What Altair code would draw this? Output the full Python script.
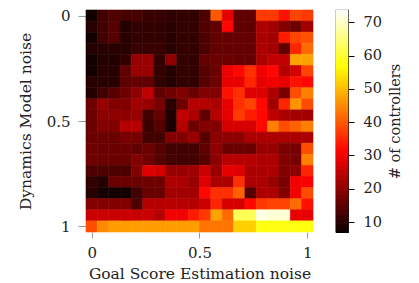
import altair as alt
import pandas as pd

FONT = "DejaVu Serif"

# noise levels (20 levels from 0 to 1)
goal_noise = [0.0, 0.0526, 0.1053, 0.1579, 0.2105, 0.2632, 0.3158, 0.3684, 0.4211, 0.4737,
              0.5263, 0.5789, 0.6316, 0.6842, 0.7368, 0.7895, 0.8421, 0.8947, 0.9474, 1.0]
dyn_noise = list(goal_noise)

# number of controllers, one list per Dynamics-Model-noise row (top = 0)
r00 = [7.5, 12.5, 14, 13, 13, 11.5, 11.5, 10.5, 11, 11, 13.5, 40, 29, 15.5, 15.5, 37, 37, 33, 38, 37]
r01 = [9.8, 12.5, 14.5, 9.5, 11, 11, 11, 10, 11, 11, 14, 15.5, 32, 15.5, 15.5, 23, 22, 19, 17, 22]
r02 = [7.7, 12.5, 14.5, 10, 11, 11, 11, 10, 11, 11, 13.5, 16, 16, 16, 16, 23, 22, 34, 38, 39.5]
r03 = [9.5, 10, 10, 10, 11.5, 11.5, 11.5, 10, 11, 11, 13.5, 16, 16, 16, 16, 23, 22, 15.5, 35, 42]
r04 = [7.7, 9.5, 9.5, 11, 21, 21, 11, 20, 11, 11, 16, 16.5, 16.5, 16, 16, 23, 25, 25, 47.5, 47.5]
r05 = [7.7, 10, 10, 15.5, 21, 21, 11, 9.5, 11, 11, 14.5, 16.5, 29.5, 32, 36, 30, 32, 24, 27, 38]
r06 = [10, 10, 10, 15.5, 16, 15.5, 11, 9.5, 11, 11, 14.5, 17, 29, 29, 35, 29, 30, 29, 33, 32]
r07 = [9.5, 12.5, 14.5, 17, 20, 25, 15.5, 17, 19, 16.5, 19, 19, 33, 36, 28, 28, 23, 18, 39, 44]
r08 = [17, 21, 19, 19, 22, 21, 18, 10, 17, 24, 24, 23, 29, 36, 38, 32, 22, 35, 46, 39]
r09 = [16.5, 20, 20, 20, 21, 12.5, 16, 9, 25, 23, 15.5, 24, 29, 37, 34, 32, 25, 23, 22, 22]
r10 = [16.5, 19, 19, 24, 24, 12, 14.5, 8.5, 24, 17, 19, 19, 27, 27, 27, 32, 44, 39, 41, 44]
r11 = [16.5, 16.5, 16.5, 18, 18, 12.5, 12.5, 19, 19, 21, 14.5, 20, 20, 20, 23, 23, 23, 23, 23, 23]
r12 = [17, 16.5, 16.5, 16.5, 15.5, 17, 14.5, 12.5, 12.5, 12.5, 15.5, 20, 16.5, 16.5, 16.5, 21, 21, 18, 18, 39]
r13 = [17, 16.5, 16.5, 16.5, 19, 17, 14.5, 12.5, 12.5, 12.5, 14.5, 20, 24, 24, 24, 23, 23, 19, 18, 44]
r14 = [13.5, 13.5, 13.5, 13.5, 19, 28, 27, 21, 21, 22, 26, 21, 29, 28, 23, 23, 23, 19, 20, 35]
r15 = [11, 9.5, 16.5, 16.5, 16.5, 17, 17, 23, 23, 21, 28, 23, 23, 36, 23, 23, 21, 18, 30, 31]
r16 = [10, 8, 8, 8, 12.5, 16.5, 16.5, 22, 22, 22, 32, 36, 36, 41, 14.5, 23, 23, 19, 30, 39]
r17 = [19, 19, 19, 19, 13.5, 24, 24, 24, 24, 24, 26, 35, 27, 27, 32, 37, 38, 38, 42, 33]
r18 = [26, 26, 26, 26, 26, 26, 24, 30, 30, 34, 37, 47.5, 42, 62.5, 62.5, 72, 71, 71, 29, 29]
r19 = [39, 45, 47, 47, 47, 47, 47, 47, 47, 47, 43, 43, 43, 52, 52, 58, 58, 58, 58, 58]
rows = [r00, r01, r02, r03, r04, r05, r06, r07, r08, r09,
        r10, r11, r12, r13, r14, r15, r16, r17, r18, r19]

# colour-bar range and ticks
cb_min, cb_max = 7.0, 73.7
cb_ticks = [10, 20, 30, 40, 50, 60, 70]

half = 0.5 / 19
recs = []
for i, dn in enumerate(dyn_noise):
    for j, gn in enumerate(goal_noise):
        recs.append({"x0": gn - half, "x1": gn + half,
                     "y0": dn - half, "y1": dn + half,
                     "count": rows[i][j]})
df = pd.DataFrame(recs)

# colour-bar slices
cb_recs = []
v = cb_min
while v < cb_max:
    cb_recs.append({"lo": v, "hi": min(v + 0.6, cb_max), "c": v + 0.25})
    v += 0.5
cb = pd.DataFrame(cb_recs)

# matplotlib "hot"-like scale
hot = alt.Scale(domain=[cb_min, 31.3, 56.8, cb_max],
                range=["#0b0000", "#ff0000", "#ffff00", "#ffffff"],
                interpolate="rgb")

W, H = 227, 222
TXT = "#222222"

heat = alt.Chart(df).mark_rect(strokeWidth=0.6).encode(
    x=alt.X("x0:Q",
            scale=alt.Scale(domain=[-half, 1 + half], nice=False, zero=False),
            axis=alt.Axis(values=[0, 0.5, 1], format="~g",
                          title="Goal Score Estimation noise",
                          tickSize=6, labelPadding=7, titlePadding=6,
                          tickColor="#999999", domain=False, grid=False)),
    x2="x1:Q",
    y=alt.Y("y0:Q",
            scale=alt.Scale(domain=[-half, 1 + half], reverse=True, nice=False, zero=False),
            axis=alt.Axis(values=[0, 0.5, 1], format="~g",
                          title="Dynamics Model noise",
                          tickSize=8, labelPadding=8, titlePadding=13,
                          tickColor="#999999", domain=False, grid=False)),
    y2="y1:Q",
    color=alt.Color("count:Q", scale=hot, legend=None),
    stroke=alt.Stroke("count:Q", scale=hot, legend=None),
).properties(width=W, height=H)

cbar = alt.Chart(cb).mark_rect(strokeWidth=0.6).encode(
    x=alt.value(0),
    x2=alt.value(12),
    y=alt.Y("lo:Q",
            scale=alt.Scale(domain=[cb_min, cb_max], nice=False, zero=False),
            axis=alt.Axis(orient="right", values=cb_ticks, title="# of controllers",
                          titleAngle=270, titleBaseline="top", titlePadding=7,
                          tickSize=6, labelPadding=9,
                          tickColor="black", labelFontSize=14.5, titleFontSize=14.5,
                          domain=False, grid=False)),
    y2="hi:Q",
    color=alt.Color("c:Q", scale=hot, legend=None),
    stroke=alt.Stroke("c:Q", scale=hot, legend=None),
).properties(width=12, height=H,
             view=alt.ViewBackground(stroke="black", strokeWidth=1.2))

chart = alt.hconcat(heat, cbar, spacing=21).properties(
    padding={"left": 10, "top": 0, "right": 0, "bottom": 0}
).configure_view(stroke=None).configure_axis(
    labelFont=FONT, titleFont=FONT, labelFontSize=15, titleFontSize=15.5,
    titleFontWeight="normal", labelColor=TXT, titleColor=TXT
).configure_scale(zero=False)

chart.save("out.html", embed_options={"renderer": "svg", "actions": False})
